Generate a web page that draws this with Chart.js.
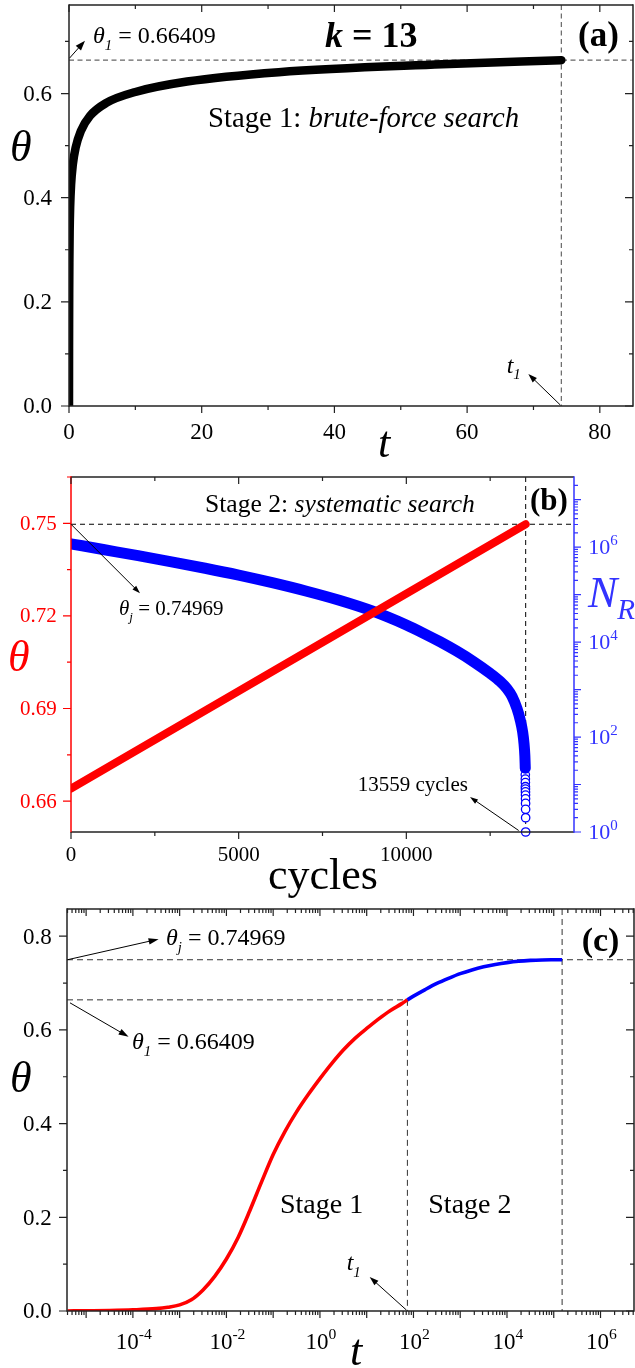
<!DOCTYPE html>
<html><head><meta charset="utf-8"><title>k = 13</title>
<script src="https://cdn.jsdelivr.net/npm/chart.js@4.4.1/dist/chart.umd.min.js"></script>
<style>
html,body{margin:0;padding:0;background:#fff;}
#wrap{position:relative;width:635px;height:1368px;overflow:hidden;background:#fff;font-family:"Liberation Serif",serif;color:#000;}
#wrap canvas{position:absolute;left:0;}
.lbl{position:absolute;white-space:nowrap;line-height:1;}
.sb{position:relative;font-size:0.62em;font-style:italic;}
.sp{position:relative;font-size:0.68em;top:-0.6em;}
</style></head><body>
<div id="wrap">
<canvas id="ca" width="635" height="455" style="top:0;width:635px;height:455px"></canvas>
<canvas id="cb" width="635" height="430" style="top:460px;width:635px;height:430px"></canvas>
<canvas id="cc" width="635" height="478" style="top:890px;width:635px;height:478px"></canvas>
</div>
<script>
// ---------------- DATA ----------------
// Stage 1 (brute-force search): coverage theta versus time t
const stage1T     = [4e-6, 1e-5, 3.16e-5, 1e-4, 3.16e-4, 5.62e-4, 1e-3, 1.78e-3, 3.16e-3, 5.62e-3, 0.01, 0.0178, 0.0316, 0.0562, 0.1, 0.178, 0.316, 0.562, 1, 1.78, 3.16, 5.62, 10, 17.8, 31.6, 56.2, 74.2];
const stage1Theta = [0.000, 0.0005, 0.0012, 0.0025, 0.005, 0.008, 0.013, 0.024, 0.045, 0.074, 0.111, 0.157, 0.214, 0.275, 0.334, 0.383, 0.425, 0.462, 0.496, 0.528, 0.557, 0.582, 0.603, 0.623, 0.641, 0.656, 0.66409];
// Stage 2 (systematic search) on the time axis
const stage2T     = [74.2, 100, 178, 316, 562, 1000, 1778, 3162, 5623, 10000, 17783, 31623, 56234, 100000, 151000];
const stage2Theta = [0.66409, 0.672, 0.686, 0.699, 0.710, 0.720, 0.728, 0.7345, 0.7395, 0.7435, 0.7465, 0.7483, 0.7493, 0.7496, 0.74969];
// Stage 2 versus cycles
const sysCycles   = [0, 13559];
const sysTheta    = [0.66409, 0.74969];
const nrCycles    = [0, 1000, 2000, 3000, 4000, 5000, 6000, 7000, 8000, 9000, 10000, 10500, 11000, 11500, 12000, 12500, 12800, 13000, 13150, 13300, 13400, 13470, 13510, 13535, 13547];
const nrValues    = [1.175e6, 8.81e5, 6.61e5, 4.90e5, 3.59e5, 2.57e5, 1.78e5, 1.19e5, 7.59e4, 4.47e4, 2.29e4, 1.55e4, 1.02e4, 6460, 3890, 2190, 1480, 1050, 724, 398, 224, 126, 72, 40, 22];
const nrTailCycles = [13548, 13549, 13550, 13551, 13552, 13553, 13554, 13555, 13556, 13557, 13558, 13559];
const nrTailValues = [16, 13, 11, 9, 8, 7, 6, 5, 4, 3, 2, 1];
const theta1 = 0.66409, thetaJ = 0.74969, t1 = 74.2, tJ = 151000, cyclesJ = 13559;

// tick values
const aXTicks = [0, 20, 40, 60, 80], aXMinor = [10, 30, 50, 70];
const aYTicks = [0, 0.2, 0.4, 0.6],  aYMinor = [0.1, 0.3, 0.5, 0.7];
const bXTicks = [0, 5000, 10000],    bXMinor = [2500, 7500, 12500];
const bYTicks = [0.66, 0.69, 0.72, 0.75], bYMinor = [0.675, 0.705, 0.735, 0.765];
const bY2Exps = [0, 1, 2, 3, 4, 5, 6, 7], bY2Labeled = [0, 2, 4, 6];
const cXExps  = [-5, -4, -3, -2, -1, 0, 1, 2, 3, 4, 5, 6], cXLabeled = [-4, -2, 0, 2, 4, 6];
const cYTicks = [0, 0.2, 0.4, 0.6, 0.8], cYMinor = [0.1, 0.3, 0.5, 0.7];

// ---------------- HELPERS ----------------
const RED = '#ff0000', BLUE = '#0000ff', BLUEAX = '#3333ff';
const wrap = document.getElementById('wrap');

function seg(ctx, x1, y1, x2, y2, color, w, dash) {
  ctx.save(); ctx.beginPath(); ctx.strokeStyle = color; ctx.lineWidth = w;
  ctx.setLineDash(dash || []); ctx.moveTo(x1, y1); ctx.lineTo(x2, y2); ctx.stroke(); ctx.restore();
}
function arrow(ctx, x1, y1, x2, y2, hl, hw) {
  const a = Math.atan2(y2 - y1, x2 - x1), c = Math.cos(a), s = Math.sin(a);
  const bx = x2 - hl * c, by = y2 - hl * s;
  seg(ctx, x1, y1, bx + c, by + s, '#000', 1);
  ctx.save(); ctx.fillStyle = '#000'; ctx.beginPath();
  ctx.moveTo(x2, y2); ctx.lineTo(bx - hw * s, by + hw * c); ctx.lineTo(bx + hw * s, by - hw * c);
  ctx.closePath(); ctx.fill(); ctx.restore();
}
function logVals(exps, lo, hi) {
  const out = [];
  exps.concat([exps[0] - 1]).forEach(e => { for (let k = 2; k <= 9; k++) { const v = k * Math.pow(10, e); if (v > lo && v < hi) out.push(v); } });
  return out;
}
function tickX(ctx, sc, area, vals, len, color) {
  ctx.save(); ctx.strokeStyle = color; ctx.lineWidth = 1.2; ctx.beginPath();
  vals.forEach(v => { const p = sc.getPixelForValue(v); if (p < area.left - 0.5 || p > area.right + 0.5) return;
    ctx.moveTo(p, area.bottom); ctx.lineTo(p, area.bottom + len);
    ctx.moveTo(p, area.top); ctx.lineTo(p, area.top + len); });
  ctx.stroke(); ctx.restore();
}
function tickY(ctx, sc, area, vals, len, color, mode) {
  ctx.save(); ctx.strokeStyle = color; ctx.lineWidth = 1.2; ctx.beginPath();
  vals.forEach(v => { const p = sc.getPixelForValue(v); if (p < area.top - 0.5 || p > area.bottom + 0.5) return;
    if (mode.indexOf('L') >= 0) { ctx.moveTo(area.left, p); ctx.lineTo(area.left - len, p); }
    if (mode === 'LR') { ctx.moveTo(area.right, p); ctx.lineTo(area.right - len, p); }
    if (mode === 'R') { ctx.moveTo(area.right, p); ctx.lineTo(area.right + len, p); } });
  ctx.stroke(); ctx.restore();
}
function frame(ctx, a, c, w) {
  seg(ctx, a.left, a.top, a.right, a.top, c.t, w);
  seg(ctx, a.left, a.bottom, a.right, a.bottom, c.b, w);
  seg(ctx, a.left, a.top - w / 2, a.left, a.bottom + w / 2, c.l, w);
  seg(ctx, a.right, a.top - w / 2, a.right, a.bottom + w / 2, c.r, w);
}
// HTML text placed by its baseline (line-height 1, Liberation Serif: baseline at 0.8375em)
function addLabel(html, x, base, size, extra, align) {
  const d = document.createElement('div'); d.className = 'lbl'; d.innerHTML = html;
  d.style.top = (base - 0.8375 * size) + 'px'; d.style.fontSize = size + 'px';
  if (align === 'center') { d.style.left = x + 'px'; d.style.transform = 'translateX(-50%)'; }
  else if (align === 'right') { d.style.right = (635 - x) + 'px'; }
  else d.style.left = x + 'px';
  if (extra) d.style.cssText += extra;
  wrap.appendChild(d);
}
const pow10 = e => '10<span class="sp">' + (e < 0 ? '-' : '') + Math.abs(e) + '</span>';
const fixTicks = vals => (s => { s.ticks = vals.map(v => ({ value: v })); });
const baseOpts = (padding) => ({
  responsive: false, animation: false, events: [], layout: { padding },
  plugins: { legend: { display: false }, tooltip: { enabled: false } }
});
const hidden = { grid: { display: false }, border: { display: false }, ticks: { display: false } };
const pts = (xs, ys) => xs.map((x, i) => ({ x, y: ys[i] }));

// ---------------- PANEL (a) ----------------
const decoA = {
  id: 'decoA',
  beforeDatasetsDraw(ch) {
    const { ctx, chartArea: a, scales: { x, y } } = ch;
    const yy = y.getPixelForValue(theta1), xx = x.getPixelForValue(t1);
    seg(ctx, a.left, yy, a.right, yy, '#666', 1.2, [5, 3.5]);
    seg(ctx, xx, a.top, xx, a.bottom, '#666', 1.2, [5, 3.5]);
  },
  afterDraw(ch) {
    const { ctx, chartArea: a, scales: { x, y } } = ch;
    frame(ctx, a, { t: '#222', b: '#222', l: '#222', r: '#222' }, 1.5);
    tickX(ctx, x, a, aXTicks, 7, '#222'); tickX(ctx, x, a, aXMinor, 4, '#222');
    tickY(ctx, y, a, aYTicks, 8, '#222', 'LR'); tickY(ctx, y, a, aYMinor, 4, '#222', 'LR');
    const sx = x.getPixelForValue(0), sy = y.getPixelForValue(theta1);
    arrow(ctx, sx + 0.5, sy - 2, sx + 16, sy - 19.5, 10, 3.5);
    const tx = x.getPixelForValue(t1), ty = y.getPixelForValue(0);
    arrow(ctx, tx - 1, ty - 1, tx - 33, ty - 32, 9, 3);
  }
};
const chartA = new Chart(document.getElementById('ca'), {
  type: 'line',
  data: { datasets: [{ data: pts(stage1T, stage1Theta), borderColor: '#000', borderWidth: 8.5, pointRadius: 0,
    cubicInterpolationMode: 'monotone', clip: 0, borderCapStyle: 'round', borderJoinStyle: 'round' }] },
  options: Object.assign(baseOpts({ top: 5, right: 2, left: 0, bottom: 0 }), {
    scales: {
      x: Object.assign({ type: 'linear', min: 0, max: 85, afterFit: s => { s.height = 49; }, afterBuildTicks: fixTicks(aXTicks) }, hidden),
      y: Object.assign({ type: 'linear', min: 0, max: 0.77, afterFit: s => { s.width = 69; }, afterBuildTicks: fixTicks(aYTicks) }, hidden)
    }
  }),
  plugins: [decoA]
});

// ---------------- PANEL (b) ----------------
const decoB = {
  id: 'decoB',
  beforeDatasetsDraw(ch) {
    const { ctx, chartArea: a, scales: { x, y } } = ch;
    const yy = y.getPixelForValue(thetaJ), xx = x.getPixelForValue(cyclesJ);
    seg(ctx, a.left, yy, a.right, yy, '#000', 1, [5, 4]);
    seg(ctx, xx, a.top, xx, a.bottom, '#000', 1, [5, 4]);
  },
  afterDraw(ch) {
    const { ctx, chartArea: a, scales: { x, y, y2 } } = ch;
    frame(ctx, a, { t: '#222', b: '#222', l: RED, r: BLUEAX }, 1.5);
    tickX(ctx, x, a, bXTicks, 7, '#222'); tickX(ctx, x, a, bXMinor, 4, '#222');
    tickY(ctx, y, a, bYTicks, 8, RED, 'L'); tickY(ctx, y, a, bYMinor, 4, RED, 'L');
    tickY(ctx, y2, a, bY2Exps.map(e => Math.pow(10, e)), 7, BLUEAX, 'R');
    tickY(ctx, y2, a, logVals(bY2Exps, 1, 3e7), 4, BLUEAX, 'R');
    const sx = x.getPixelForValue(0), sy = y.getPixelForValue(thetaJ);
    arrow(ctx, sx, sy, sx + 69, sy + 69, 8, 2.6);
    const cx = x.getPixelForValue(cyclesJ), cy = y2.getPixelForValue(1);
    arrow(ctx, cx - 7, cy - 1.5, cx - 55.7, cy - 35, 8, 2.6);
  }
};
const chartB = new Chart(document.getElementById('cb'), {
  type: 'line',
  data: { datasets: [
    { data: pts(sysCycles, sysTheta), yAxisID: 'y', borderColor: RED, borderWidth: 8, pointRadius: 0,
      clip: 0, borderCapStyle: 'round' },
    { data: pts(nrCycles, nrValues), yAxisID: 'y2', borderColor: BLUE, borderWidth: 11, pointRadius: 0,
      cubicInterpolationMode: 'monotone', clip: 0, borderCapStyle: 'round', borderJoinStyle: 'round' },
    { data: pts(nrTailCycles, nrTailValues), yAxisID: 'y2', showLine: false, pointRadius: 4.2, pointBorderWidth: 1.3,
      pointBorderColor: BLUE, pointBackgroundColor: '#fff', borderColor: BLUE, clip: false }
  ] },
  options: Object.assign(baseOpts({ top: 17, right: 0, left: 0, bottom: 0 }), {
    scales: {
      x: Object.assign({ type: 'linear', min: 0, max: 15000, afterFit: s => { s.height = 58; }, afterBuildTicks: fixTicks(bXTicks) }, hidden),
      y: Object.assign({ type: 'linear', position: 'left', min: 0.65, max: 0.765, afterFit: s => { s.width = 71; }, afterBuildTicks: fixTicks(bYTicks) }, hidden),
      y2: Object.assign({ type: 'logarithmic', position: 'right', min: 1, max: 3e7, afterFit: s => { s.width = 61; },
        afterBuildTicks: fixTicks(bY2Exps.map(e => Math.pow(10, e))) }, hidden)
    }
  }),
  plugins: [decoB]
});

// ---------------- PANEL (c) ----------------
const decoC = {
  id: 'decoC',
  beforeDatasetsDraw(ch) {
    const { ctx, chartArea: a, scales: { x, y } } = ch;
    const y1 = y.getPixelForValue(theta1), yj = y.getPixelForValue(thetaJ);
    const x1 = x.getPixelForValue(t1), xj = x.getPixelForValue(tJ);
    seg(ctx, a.left, yj, a.right, yj, '#333', 1, [6, 4]);
    seg(ctx, a.left, y1, x1, y1, '#333', 1, [6, 4]);
    seg(ctx, x1, y1, x1, a.bottom, '#333', 1, [6, 4]);
    seg(ctx, xj, a.top, xj, a.bottom, '#333', 1, [6, 4]);
  },
  afterDraw(ch) {
    const { ctx, chartArea: a, scales: { x, y } } = ch;
    frame(ctx, a, { t: '#222', b: '#222', l: '#222', r: '#222' }, 1.5);
    tickX(ctx, x, a, cXExps.map(e => Math.pow(10, e)), 7, '#222');
    tickX(ctx, x, a, logVals(cXExps, 3.9e-6, 5.2e6), 4, '#222');
    tickY(ctx, y, a, cYTicks, 8, '#222', 'LR'); tickY(ctx, y, a, cYMinor, 4, '#222', 'LR');
    const lx = a.left, yj = y.getPixelForValue(thetaJ), y1 = y.getPixelForValue(theta1);
    arrow(ctx, lx + 0.5, yj, lx + 91.6, yj - 20.6, 10, 3.2);
    arrow(ctx, lx + 3, y1 + 3, lx + 61.6, y1 + 37, 10, 3.2);
    const tx = x.getPixelForValue(t1);
    arrow(ctx, tx - 1, a.bottom - 1, tx - 37.7, a.bottom - 34, 9, 3);
  }
};
const chartC = new Chart(document.getElementById('cc'), {
  type: 'line',
  data: { datasets: [
    { data: pts(stage2T, stage2Theta), borderColor: BLUE, borderWidth: 3.6, pointRadius: 0, cubicInterpolationMode: 'monotone', clip: 0 },
    { data: pts(stage1T, stage1Theta), borderColor: RED, borderWidth: 3.6, pointRadius: 0, cubicInterpolationMode: 'monotone', clip: 0 }
  ] },
  options: Object.assign(baseOpts({ top: 19, right: 1, left: 0, bottom: 0 }), {
    scales: {
      x: Object.assign({ type: 'logarithmic', min: 3.9e-6, max: 5.2e6, afterFit: s => { s.height = 57; },
        afterBuildTicks: fixTicks(cXExps.map(e => Math.pow(10, e))) }, hidden),
      y: Object.assign({ type: 'linear', min: 0, max: 0.858, afterFit: s => { s.width = 67; }, afterBuildTicks: fixTicks(cYTicks) }, hidden)
    }
  }),
  plugins: [decoC]
});

// ---------------- TICK LABELS (positioned from the Chart.js scales) ----------------
const OFF_A = 0, OFF_B = 460, OFF_C = 890;
aXTicks.forEach(v => addLabel(String(v), chartA.scales.x.getPixelForValue(v), OFF_A + 439.3, 23, '', 'center'));
aYTicks.forEach(v => addLabel(v.toFixed(1), 52, OFF_A + chartA.scales.y.getPixelForValue(v) + 7.6, 23, '', 'right'));
bXTicks.forEach(v => addLabel(String(v), chartB.scales.x.getPixelForValue(v), OFF_B + 401.7, 21, '', 'center'));
bYTicks.forEach(v => addLabel(v.toFixed(2), 56.7, OFF_B + chartB.scales.y.getPixelForValue(v) + 7, 21, 'color:' + RED, 'right'));
bY2Labeled.forEach(e => addLabel(pow10(e), 588.3, OFF_B + chartB.scales.y2.getPixelForValue(Math.pow(10, e)) + 7.5, 22, 'color:' + BLUEAX));
cXLabeled.forEach(e => addLabel(pow10(e), chartC.scales.x.getPixelForValue(Math.pow(10, e)) + 1, OFF_C + 459, 23, '', 'center'));
cYTicks.forEach(v => addLabel(v.toFixed(1), 51.7, OFF_C + chartC.scales.y.getPixelForValue(v) + 7.6, 23, '', 'right'));

// ---------------- ANNOTATIONS ----------------
const sub = (s, top) => '<span class="sb" style="top:' + (top || 0.45) + 'em">' + s + '</span>';
// (a)
addLabel('<i>θ</i>' + sub('1') + ' = 0.66409', 93, 43.3, 24);
addLabel('<b><i>k</i> = 13</b>', 325, 46.7, 36);
addLabel('<b>(a)</b>', 578, 46.7, 35);
addLabel('Stage 1: <i>brute-force search</i>', 208, 126.7, 28.7);
addLabel('<i>t</i>' + sub('1'), 506.7, 372.7, 24);
addLabel('<i>θ</i>', 10, 161.7, 44);
addLabel('<i>t</i>', 378, 458, 44);
// (b)
addLabel('Stage 2: <i>systematic search</i>', 205, 512.3, 25.6);
addLabel('<b>(b)</b>', 530, 510, 31);
addLabel('<i>θ</i>' + sub('j') + ' = 0.74969', 119, 615.7, 21);
addLabel('13559 cycles', 357.7, 791.7, 21);
addLabel('<i>θ</i>', 8, 671.7, 44, 'color:' + RED);
addLabel('<i>N</i><span class="sb" style="top:0.42em;font-size:0.66em">R</span>', 588, 608, 44, 'color:' + BLUEAX);
addLabel('cycles', 268, 890, 44);
// (c)
addLabel('<i>θ</i>' + sub('j') + ' = 0.74969', 166, 945, 24);
addLabel('<i>θ</i>' + sub('1') + ' = 0.66409', 132, 1049.3, 24);
addLabel('<b>(c)</b>', 581.7, 951.7, 34);
addLabel('Stage 1', 280, 1213.3, 28);
addLabel('Stage 2', 428.3, 1213.3, 28);
addLabel('<i>t</i>' + sub('1'), 346.7, 1270, 24);
addLabel('<i>θ</i>', 10, 1093.3, 44);
addLabel('<i>t</i>', 350, 1366, 44);
</script>
</body></html>
